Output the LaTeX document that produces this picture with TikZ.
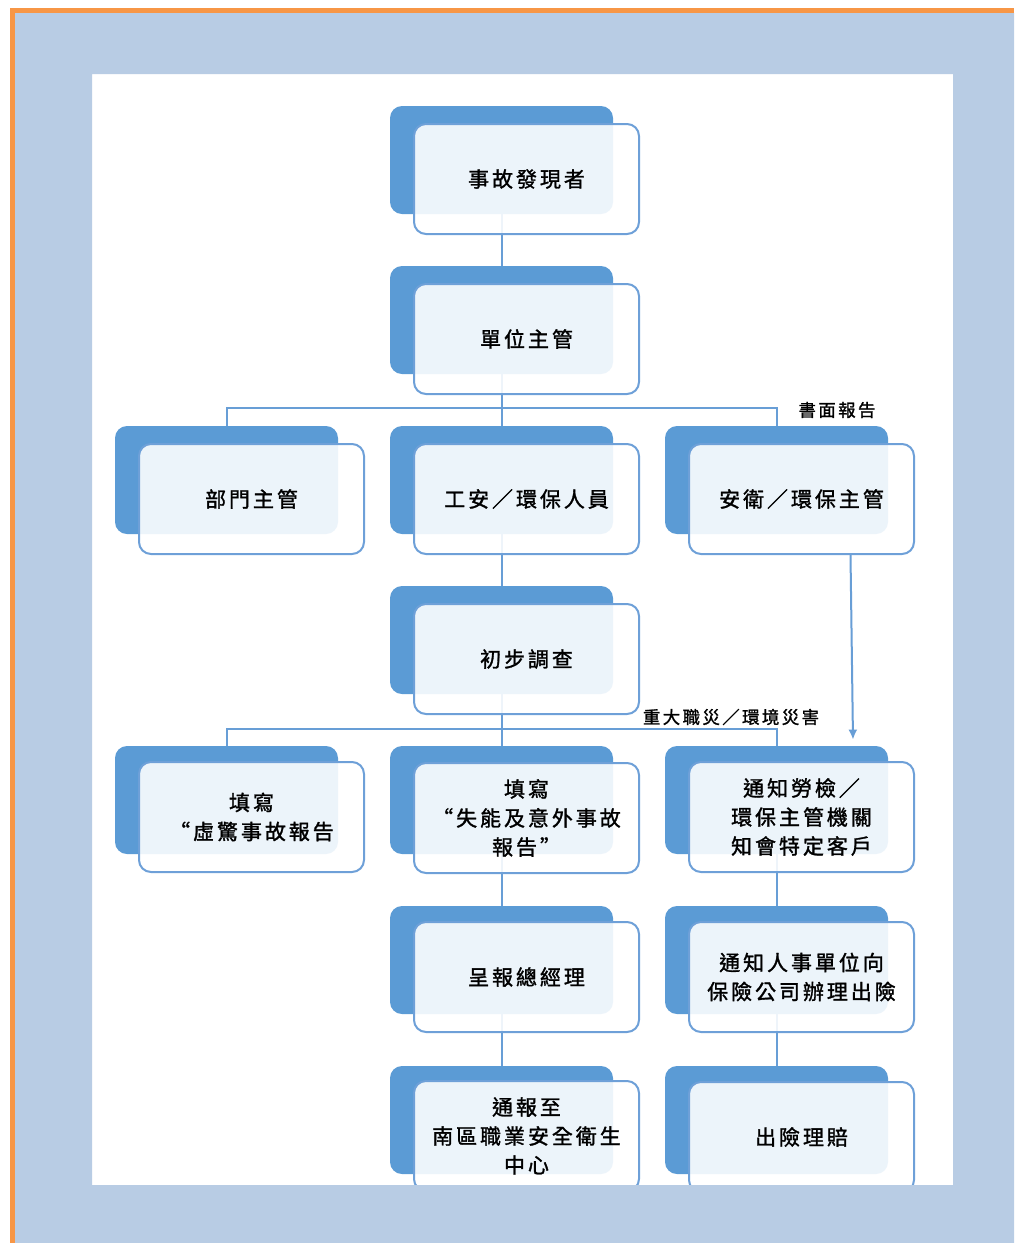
\documentclass[tikz,border=0pt]{standalone}
\usepackage{fontspec}
\usetikzlibrary{arrows.meta,calc}
\newfontfamily\boxfont[LetterSpace=14,FakeBold=1.4]{Noto Sans CJK TC}
\definecolor{framebg}{RGB}{184,204,228}
\definecolor{frameline}{RGB}{247,150,70}
\definecolor{backblue}{RGB}{91,155,213}
\definecolor{edgeblue}{RGB}{110,160,216}
\definecolor{linkblue}{RGB}{104,158,214}
\tikzset{
  backbox/.style={fill=backblue, rounded corners=6pt, minimum width=111.5pt,
    minimum height=54pt, inner sep=0pt},
  frontbox/.style={draw=edgeblue, line width=1pt, fill=white, fill opacity=0.89,
    text opacity=1, rounded corners=6pt, minimum width=112.5pt, minimum height=55pt,
    inner sep=0pt, align=center, font=\boxfont\fontsize{10.5pt}{14.5pt}\selectfont},
  link/.style={draw=linkblue, line width=1pt},
  tag/.style={inner sep=0pt, font=\boxfont\fontsize{8.7pt}{10pt}\selectfont}
}
\begin{document}
\begin{tikzpicture}[x=0.5pt, y=-0.5pt]
\useasboundingbox (0,0) rectangle (1014,1243);
\fill[white] (0,0) rectangle (1014,1243);

% back plates
\node[backbox] (b1)  at (501.5,160)  {};
\node[backbox] (b2)  at (501.5,320)  {};
\node[backbox] (b3l) at (226.5,480)  {};
\node[backbox] (b3c) at (501.5,480)  {};
\node[backbox] (b3r) at (776.5,480)  {};
\node[backbox] (b4)  at (501.5,640)  {};
\node[backbox] (b5l) at (226.5,800)  {};
\node[backbox] (b5c) at (501.5,800)  {};
\node[backbox] (b5r) at (776.5,800)  {};
\node[backbox] (b6c) at (501.5,960)  {};
\node[backbox] (b6r) at (776.5,960)  {};
\node[backbox] (b7c) at (501.5,1120) {};
\node[backbox] (b7r) at (776.5,1120) {};

% connectors
\coordinate (bus1) at (501.5,408);
\coordinate (bus2) at (501.5,729);
\draw[link] (b1.south) -- (b2.north);
\draw[link] (b2.south) -- (b3c.north);
\draw[link] (b3l.north) |- (bus1) -| (b3r.north);
\draw[link] (b3c.south) -- (b4.north);
\draw[link] (b4.south) -- (b5c.north);
\draw[link] (b5l.north) |- (bus2) -| (b5r.north);
\draw[link] (b5c.south) -- (b6c.north);
\draw[link] (b6c.south) -- (b7c.north);
\draw[link] (b5r.south) -- (b6r.north);
\draw[link] (b6r.south) -- (b7r.north);

% front cards
\node[frontbox] (f1)  at (526.5,179)  {事故發現者};
\node[frontbox] (f2)  at (526.5,339)  {單位主管};
\node[frontbox] (f3l) at (251.5,499)  {部門主管};
\node[frontbox] (f3c) at (526.5,499)  {工安／環保人員};
\node[frontbox] (f3r) at (801.5,499)  {安衛／環保主管};
\node[frontbox] (f4)  at (526.5,659)  {初步調查};
\node[frontbox] (f5l) at (251.5,817)  {填寫\\“虛驚事故報告};
\node[frontbox] (f5c) at (526.5,818)  {填寫\\“失能及意外事故\\報告”};
\node[frontbox] (f5r) at (801.5,817)  {通知勞檢／\\環保主管機關\\知會特定客戶};
\node[frontbox] (f6c) at (526.5,977)  {呈報總經理};
\node[frontbox] (f6r) at (801.5,977)  {通知人事單位向\\保險公司辦理出險};
\node[frontbox] (f7c) at (526.5,1136) {通報至\\南區職業安全衛生\\中心};
\node[frontbox] (f7r) at (801.5,1137) {出險理賠};

% arrow to the notification card
\draw[link, -{Latex[length=5pt,width=4.5pt]}] ($(f3r.south)+(49,0)$) -- ($(b5r.north)+(76.5,-6)$);

% branch labels
\node[tag] (t1) at (837,410) {書面報告};
\node[tag] (t2) at (731,717) {重大職災／環境災害};

% page frame around the white panel
\fill[framebg, even odd rule] (15,13) rectangle (1014,1243) (92,74) rectangle (953,1185);
\fill[frameline] (10,8) rectangle (1014,13);
\fill[frameline] (10,8) rectangle (15,1243);
\end{tikzpicture}
\end{document}
